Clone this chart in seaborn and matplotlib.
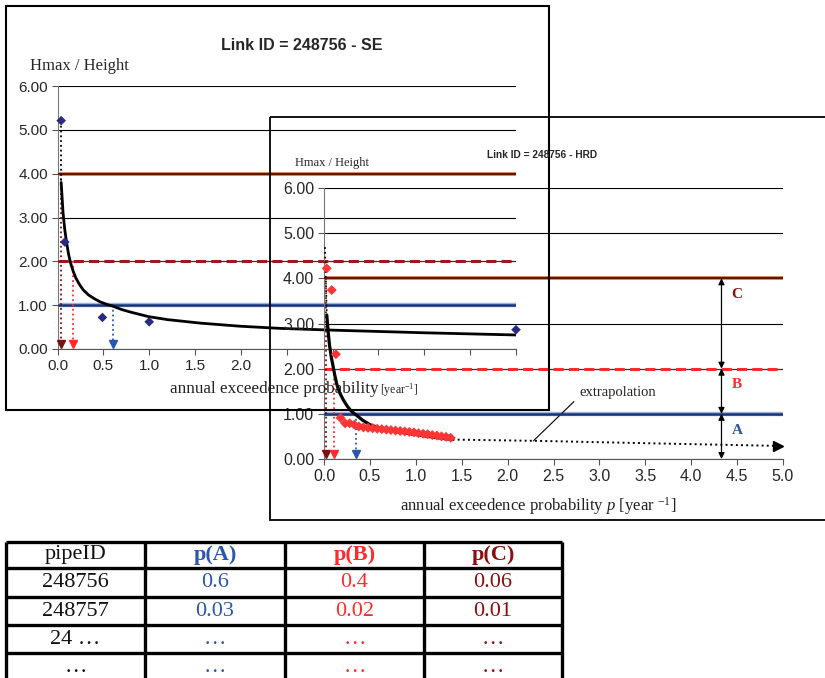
import matplotlib
matplotlib.use("Agg")
import matplotlib.pyplot as plt
import seaborn as sns
import numpy as np
from matplotlib.patches import Rectangle

# ---- SE panel: Link ID 248756 ----
se_obs_p = [0.04, 0.08, 0.49, 1.0, 5.0]
se_obs_h = [5.21, 2.44, 0.72, 0.62, 0.44]
se_fit_p = [0.04, 0.06, 0.08, 0.10, 0.12, 0.14, 0.17, 0.20, 0.24, 0.28, 0.34, 0.40,
            0.47, 0.55, 0.60, 0.70, 0.80, 0.99, 1.2, 1.56, 1.99, 2.43, 3.0, 4.0, 5.0]
se_fit_h = [3.80, 3.12, 2.71, 2.42, 2.17, 1.98, 1.78, 1.62, 1.47, 1.35, 1.23, 1.15,
            1.07, 1.01, 0.98, 0.90, 0.84, 0.74, 0.67, 0.59, 0.52, 0.47, 0.43, 0.37, 0.32]
se_cross_p = [0.04, 0.17, 0.60]          # crossing of C, B, A

# ---- HRD panel ----
hrd_obs_p = [0.03, 0.084, 0.13, 0.18, 0.23, 0.28, 0.33, 0.38, 0.43, 0.48, 0.53, 0.58,
             0.63, 0.68, 0.73, 0.78, 0.83, 0.88, 0.93, 0.98, 1.03, 1.08, 1.13, 1.18,
             1.23, 1.28, 1.33, 1.38]
hrd_obs_h = [4.22, 3.74, 2.32, 0.91, 0.79, 0.79, 0.76, 0.72, 0.70, 0.69, 0.68, 0.67,
             0.66, 0.65, 0.64, 0.63, 0.62, 0.61, 0.60, 0.59, 0.57, 0.56, 0.55, 0.53,
             0.52, 0.50, 0.49, 0.47]
hrd_fit_p = [0.03, 0.04, 0.047, 0.06, 0.08, 0.10, 0.12, 0.14, 0.17, 0.21, 0.25, 0.28,
             0.32, 0.36, 0.42, 0.50, 0.60, 0.70, 0.87, 1.0, 1.2, 1.40]
hrd_fit_h = [3.19, 2.95, 2.78, 2.52, 2.25, 2.04, 1.83, 1.65, 1.47, 1.31, 1.18, 1.10,
             1.02, 0.96, 0.86, 0.76, 0.69, 0.64, 0.58, 0.54, 0.48, 0.43]
hrd_extrap_p = [1.40, 2.36, 3.5, 4.95]
hrd_extrap_h = [0.43, 0.40, 0.35, 0.29]
hrd_lead_p = [0.01, 0.03]
hrd_lead_h = [4.69, 3.19]
hrd_cross_p = [0.02, 0.11, 0.35]

levels = [1.0, 2.0, 4.0]                  # A, B, C
level_names = ["A", "B", "C"]

# ---- table ----
tbl_header = ["pipeID", "p(A)", "p(B)", "p(C)"]
tbl_pipe = ["248756", "248757", "24 \u2026", "\u2026"]
tbl_pA = ["0.6", "0.03", "\u2026", "\u2026"]
tbl_pB = ["0.4", "0.02", "\u2026", "\u2026"]
tbl_pC = ["0.06", "0.01", "\u2026", "\u2026"]

BLUE = "#2B56B0"
RED = "#FF2A2A"
DRED = "#8B0F0F"
NAVY = "#2A2A80"

sns.set_style("white")
plt.rcParams["font.family"] = ["Liberation Sans", "DejaVu Sans"]
plt.rcParams["mathtext.fontset"] = "custom"
plt.rcParams["mathtext.rm"] = "Liberation Serif"
plt.rcParams["mathtext.it"] = "Liberation Serif:italic"

W, H = 825, 678
fig = plt.figure(figsize=(W / 100, H / 100), dpi=100)
fig.patch.set_facecolor("white")


def px_axes(left, top, right, bottom):
    return fig.add_axes([left / W, 1 - bottom / H, (right - left) / W, (bottom - top) / H])


def style_axes(ax, fs, b_color, xlabels_upto=5.0):
    ax.set_facecolor("none")
    ax.set_xlim(0, 5)
    ax.set_ylim(0, 6)
    xt = np.arange(0, 5.01, 0.5)
    ax.set_xticks(xt)
    ax.set_xticklabels([f"{t:.1f}" if t <= xlabels_upto + 1e-9 else "" for t in xt])
    ax.set_yticks(np.arange(0, 6.01, 1))
    ax.set_yticklabels([f"{t:.2f}" for t in np.arange(0, 6.01, 1)])
    ax.grid(axis="y", color="k", lw=0.8)
    ax.grid(axis="x", visible=False)
    for s in ["top", "right"]:
        ax.spines[s].set_visible(False)
    ax.spines["left"].set_color("#777777")
    ax.spines["bottom"].set_color("#555555")
    ax.tick_params(axis="both", direction="out", length=4, width=0.8, color="#555555",
                   labelsize=fs, pad=3, left=True, bottom=True)
    ax.set_xlabel("")
    ax.set_ylabel("")
    # threshold levels
    ax.axhline(levels[2], color="#E89560", lw=2.6, zorder=3)
    ax.axhline(levels[2], color="#5E1800", lw=1.7, zorder=3.1)
    ax.axhline(levels[1], color="#333333", lw=0.8, zorder=3)
    ax.axhline(levels[1], color=b_color, lw=2.2, ls=(0, (3.3, 1.7)), zorder=3.1)
    ax.axhline(levels[0], color="#9DB4E0", lw=3.2, zorder=3)
    ax.axhline(levels[0], color="#1A347A", lw=1.8, zorder=3.1)


def crossings(ax, cross_p, colors):
    for p, lv, c in zip(cross_p, levels[::-1], colors):
        ax.plot([p, p], [lv, 0.12], ls=":", color=c, lw=1.3, zorder=4)
        ax.plot([p], [0.12], marker="v", color=c, ms=6, ls="none", zorder=4, clip_on=False)


# ---- panel 1 (SE) ----
ax1 = px_axes(57.5, 86, 516, 349)
style_axes(ax1, 11, "#A5161A", xlabels_upto=2.0)
sns.lineplot(x=se_fit_p, y=se_fit_h, ax=ax1, color="k", lw=2.0, zorder=5)
ax1.plot([se_obs_p[0], se_fit_p[0]], [se_obs_h[0], se_fit_h[0]], ls=":", color="k", lw=1.3, zorder=5)
sns.scatterplot(x=se_obs_p, y=se_obs_h, ax=ax1, marker="D", s=24, color=NAVY,
                edgecolor="none", zorder=6, clip_on=False)
crossings(ax1, se_cross_p, ["#7A1010", RED, BLUE])

# ---- panel 2 (HRD) ----
ax2 = px_axes(324, 188, 783, 459)
style_axes(ax2, 11.5, RED)
sns.lineplot(x=hrd_fit_p, y=hrd_fit_h, ax=ax2, color="k", lw=2.3, zorder=5)
sns.lineplot(x=hrd_extrap_p, y=hrd_extrap_h, ax=ax2, color="k", lw=1.4, ls=":", zorder=5)
ax2.plot([hrd_extrap_p[-1]], [hrd_extrap_h[-1]], marker=">", color="k", ms=7, zorder=5, clip_on=False)
ax2.plot(hrd_lead_p, hrd_lead_h, ls=":", color="k", lw=1.3, zorder=5)
sns.scatterplot(x=hrd_obs_p, y=hrd_obs_h, ax=ax2, marker="D", s=26, color="#FF3535",
                edgecolor="none", zorder=6, clip_on=False)
crossings(ax2, hrd_cross_p, ["#7A1010", RED, BLUE])

# class bands A/B/C
band_bounds = [0.0] + levels
band_colors = [BLUE, RED, DRED]
for i, name in enumerate(level_names):
    lo, hi = band_bounds[i], band_bounds[i + 1]
    ax2.annotate("", xy=(4.33, lo), xytext=(4.33, hi),
                 arrowprops=dict(arrowstyle="<|-|>", color="k", lw=0.9,
                                 mutation_scale=9, shrinkA=0, shrinkB=0), zorder=7)
    ax2.text(4.44, hi - 0.36, name, color=band_colors[i], fontsize=11,
             fontweight="bold", family="Liberation Serif", ha="left", va="center")

ax2.annotate("extrapolation", xy=(2.28, 0.40), xytext=(2.78, 1.47),
             fontsize=10.5, family="Liberation Serif", color="#222222",
             ha="left", va="center",
             arrowprops=dict(arrowstyle="-", color="k", lw=0.8, shrinkA=2, shrinkB=0,
                             relpos=(0, 0.2)))

# ---- overlay in pixel units: frames, titles, labels, table ----
ov = fig.add_axes([0, 0, 1, 1])
ov.set_zorder(10)
ov.set_xlim(0, W)
ov.set_ylim(H, 0)
ov.axis("off")
ov.set_facecolor("none")

ov.add_patch(Rectangle((270, 117), 600, 403, fill=False, ec="k", lw=1.3))
ov.add_patch(Rectangle((6, 6), 543, 404, fill=False, ec="k", lw=1.5))

ov.text(302, 46, "Link ID = 248756 - SE", ha="center", va="center",
        fontsize=11.5, fontweight="bold")
ov.text(30, 66, "Hmax / Height", ha="left", va="center", fontsize=12,
        family="Liberation Serif")
ov.text(170, 389, "annual exceedence probability", ha="left", va="center",
        fontsize=12.3, family="Liberation Serif", color="#222222")
ov.text(380, 390, "[year$^{-1}$]", ha="left", va="center",
        fontsize=8.5, family="Liberation Serif", color="#222222")

ov.text(542, 155, "Link ID = 248756 - HRD", ha="center", va="center",
        fontsize=7.3, fontweight="bold")
ov.text(295, 163, "Hmax / Height", ha="left", va="center", fontsize=9,
        family="Liberation Serif")
ov.text(538, 506, "annual exceedence probability $p$ [year $^{-1}$]", ha="center",
        va="center", fontsize=12, family="Liberation Serif", color="#222222")

# table
col_edges = [6, 145, 285, 424, 562]
row_edges = [542, 568, 597, 625, 653]
ov.hlines(row_edges, col_edges[0], col_edges[-1], color="k", lw=2.4)
ov.vlines(col_edges, row_edges[0], H + 10, color="k", lw=2.4)
col_cx = [(a + b) / 2 for a, b in zip(col_edges[:-1], col_edges[1:])]
row_cy = [(a + b) / 2 for a, b in zip(row_edges[:-1], row_edges[1:])] + [668]

hdr_colors = ["#111111", BLUE, RED, DRED]
for j, (txt, c) in enumerate(zip(tbl_header, hdr_colors)):
    ov.text(col_cx[j], row_cy[0], txt, ha="center", va="center", fontsize=16,
            family="Liberation Serif", color=c,
            fontweight="normal" if j == 0 else "bold")
for j, (col, c) in enumerate(zip([tbl_pipe, tbl_pA, tbl_pB, tbl_pC], hdr_colors)):
    for i, txt in enumerate(col):
        ov.text(col_cx[j], row_cy[i + 1], txt, ha="center", va="center", fontsize=16,
                family="Liberation Serif", color=c)

fig.savefig("out.png", dpi=100, facecolor="white")
